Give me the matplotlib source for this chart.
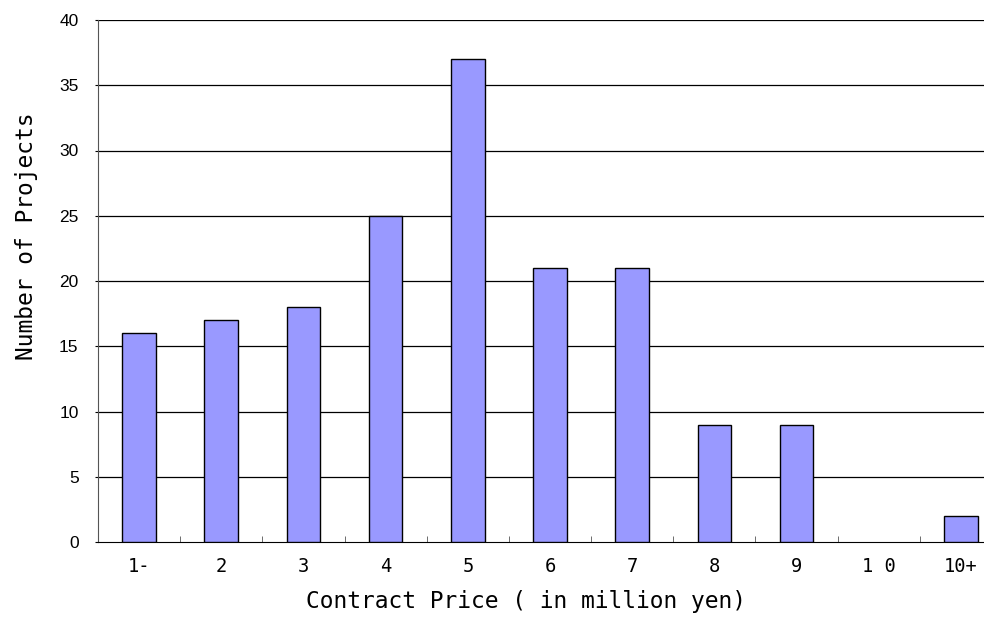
import numpy as np
import matplotlib
matplotlib.use("Agg")
import matplotlib.pyplot as plt
from matplotlib import font_manager

# data
categories = ["1-", "2", "3", "4", "5", "6", "7", "8", "9", "1 0", "10+"]
counts = [16, 17, 18, 25, 37, 21, 21, 9, 9, 0, 2]
y_ticks = [0, 5, 10, 15, 20, 25, 30, 35, 40]

names = {f.name for f in font_manager.fontManager.ttflist}
mono = "DejaVu Sans Mono"
for cand in ["Noto Sans Mono CJK JP", "Noto Sans Mono CJK SC"]:
    if cand in names:
        mono = cand
        break

fig = plt.figure(figsize=(9.84, 6.18), dpi=100)
ax = fig.add_axes([98 / 984, 76 / 618, 904 / 984, 522 / 618])

x = np.arange(len(categories))
bars = ax.bar(x, counts, width=0.41, color="#9999FF", edgecolor="black", linewidth=1.0, zorder=3)
# an empty class has no visible outline in the original
for b, c in zip(bars, counts):
    if c == 0:
        b.set_linewidth(0)

ax.set_xlim(-0.5, len(categories) - 0.5)
ax.set_ylim(0, 40)
ax.set_yticks(y_ticks)
ax.set_yticklabels([str(v) for v in y_ticks], family="Liberation Sans", fontsize=12.5)
for v in y_ticks[1:]:
    ax.axhline(v, color="black", linewidth=0.9, zorder=1)

ax.set_xticks(x)
ax.set_xticklabels(categories, family=mono, fontsize=13.5)
ax.set_xticks(np.arange(len(categories) + 1) - 0.5, minor=True)
ax.tick_params(axis="x", which="major", length=0, pad=11)
ax.tick_params(axis="x", which="minor", direction="in", length=4, color="#555555")
ax.tick_params(axis="y", length=2, pad=12)

for s in ["top", "right"]:
    ax.spines[s].set_visible(False)
ax.spines["left"].set_color("#555555")
ax.spines["bottom"].set_color("black")

ax.set_xlabel("Contract Price ( in million yen)", family=mono, fontsize=16.5)
ax.set_ylabel("Number of Projects", family=mono, fontsize=16.5)
ax.xaxis.set_label_coords((526 - 98) / 904, -0.092)
ax.yaxis.set_label_coords(-(98 - 38) / 904, (618 - 76 - 236) / 522)

fig.savefig("out.png", dpi=100)
